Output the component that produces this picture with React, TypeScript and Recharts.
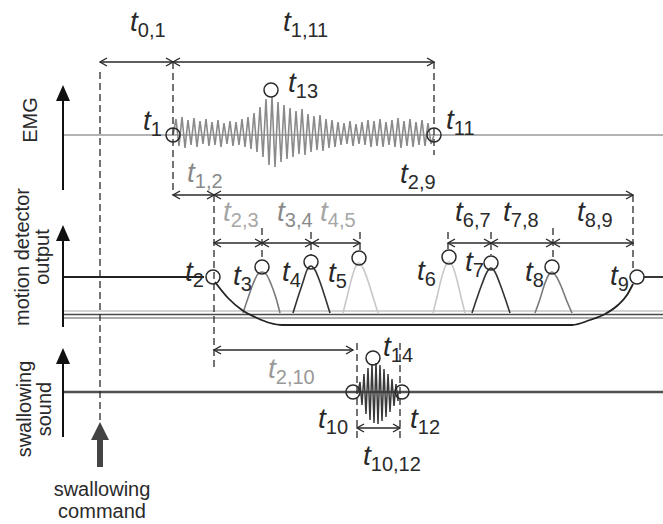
import React from "react";
import { ComposedChart, XAxis, YAxis, Line, ReferenceLine, ReferenceDot } from "recharts";

// Schematic timing diagram of a swallow.
// Time axis: 0 = swallowing command (arbitrary units).
// Level axis runs top-down, one band per channel.

const X_DOMAIN: [number, number] = [-100, 563];
const Y_DOMAIN: [number, number] = [0, 524];
const LEFT_EDGE = -37;
const RIGHT_EDGE = 563;

// EMG channel
const EMG_BASE = 135;
const EMG_ONSET = 73;
const EMG_OFFSET = 334;
const EMG_HALF_STEP = 3;
const EMG_UP = [16, 18, 15, 17, 14, 16, 13, 15, 12, 14, 13, 16, 18, 22, 28, 36, 38, 33, 30, 27, 24, 26, 21, 19, 20, 16, 15, 13, 12, 14, 11, 13, 15, 14, 16, 13, 15, 17, 14, 16, 13, 15, 12];
const EMG_DOWN = [11, 13, 10, 12, 9, 11, 10, 12, 9, 11, 10, 12, 14, 17, 22, 30, 32, 27, 24, 22, 19, 20, 17, 15, 16, 13, 12, 10, 9, 11, 9, 10, 12, 11, 12, 10, 12, 13, 11, 12, 10, 11, 9];

// swallowing sound channel
const SOUND_BASE = 392;
const SOUND_ONSET = 258;
const SOUND_OFFSET = 298;
const SOUND_HALF_STEP = 2;
const SOUND_UP = [10, 18, 24, 28, 29, 27, 23, 18, 13, 8];
const SOUND_DOWN = [13, 22, 28, 31, 32, 29, 25, 20, 14, 9];

// motion detector channel
const MOTION_HIGH = 277;
const MOTION_BASELINES = [311, 314.5, 318];
const MOTION_LEFT = [[LEFT_EDGE, MOTION_HIGH], [104, MOTION_HIGH]];
const MOTION_RIGHT = [[544, MOTION_HIGH], [RIGHT_EDGE, MOTION_HIGH]];
const MOTION_DIP = [[115, 282], [128, 298], [142, 310], [157, 318], [170, 323], [182, 325], [472, 325], [490, 320], [505, 314], [518, 305], [527, 295], [533, 284]];
const PULSE_3 = [[143, 313], [148, 298], [153, 284], [158, 274], [162, 272], [166, 274], [171, 284], [176, 298], [180, 313]];
const PULSE_4 = [[193, 313], [198, 297], [203, 282], [207, 270], [211, 266], [215, 270], [220, 282], [225, 297], [230, 313]];
const PULSE_5 = [[243, 313], [247, 297], [251, 281], [255, 268], [259, 263], [263, 268], [268, 281], [273, 297], [278, 313]];
const PULSE_6 = [[333, 313], [337, 297], [341, 280], [345, 267], [349, 262], [353, 267], [357, 280], [361, 297], [365, 313]];
const PULSE_7 = [[372, 313], [377, 298], [382, 284], [387, 272], [391, 268], [395, 272], [400, 284], [405, 298], [410, 313]];
const PULSE_8 = [[435, 313], [440, 299], [444, 286], [448, 276], [452, 272], [456, 276], [461, 286], [466, 299], [472, 313]];

// circled events: [time, level]
const MARKERS = [
  [73, 135], [334, 135], [171, 90],
  [113, 277], [162, 267], [211, 262], [259, 258], [349, 257], [391, 263], [452, 267], [537, 277],
  [253, 392], [302, 392], [273, 358],
];

// interval arrows: [from, to, level]
const SPANS = [
  [0, 73, 62], [73, 334, 62],
  [73, 114, 195], [114, 533, 195],
  [114, 162, 243], [162, 212, 243], [212, 260, 243],
  [348, 391, 243], [391, 453, 243], [453, 533, 243],
  [114, 253, 350], [257, 300, 428],
];

// dashed guides: [time, from level, to level]
const GUIDES = [
  [0, 72, 420], [73, 62, 195], [334, 62, 155], [114, 195, 368], [533, 195, 270],
  [162, 228, 260], [211, 232, 255], [260, 232, 251], [348, 232, 249], [391, 232, 255], [453, 228, 260],
  [257, 343, 438], [300, 343, 438],
];

// channel axes: [time, bottom, tip]
const AXIS_ARROWS = [[LEFT_EDGE, 190, 85], [LEFT_EDGE, 327, 225], [LEFT_EDGE, 437, 348]];
const COMMAND_ARROW = [0, 467, 422];

// time labels: [subscript, time, level]
const TIME_LABELS: [string, number, number][] = [
  ["0,1", 30, 31], ["1,11", 183, 31], ["13", 188, 92], ["1", 43, 130], ["11", 346, 129],
  ["1,2", 87, 182], ["2,9", 300, 183],
  ["2,3", 123, 221], ["3,4", 177, 221], ["4,5", 220, 221],
  ["6,7", 355, 221], ["7,8", 403, 221], ["8,9", 477, 221],
  ["2", 85, 281], ["3", 133, 285], ["4", 182, 281], ["5", 228, 282],
  ["6", 317, 280], ["7", 365, 271], ["8", 425, 281], ["9", 510, 285],
  ["2,10", 168, 378], ["14", 283, 356], ["10", 218, 428], ["12", 310, 428], ["10,12", 263, 465],
];

// channel titles: [lines, time, level]
const CHANNEL_TITLES: [string[], number, number][] = [
  [["EMG"], -70, 120],
  [["motion detector", "output"], -78, 257],
  [["swallowing", "sound"], -76, 409],
];
const COMMAND_TITLE = ["swallowing", "command"];

const INK = "#2a2a2a";
const FONT = "'Liberation Sans', Arial, Helvetica, sans-serif";
const LABEL_TONE: Record<string, string> = {
  "1,2": "#8a8a8a",
  "2,3": "#a6a6a6",
  "3,4": "#8a8a8a",
  "4,5": "#a6a6a6",
  "2,10": "#999999",
};

type Pt = { t: number; v: number };
const toPts = (rows: number[][]): Pt[] => rows.map(([t, v]) => ({ t, v }));

function oscillation(onset: number, offset: number, half: number, base: number, up: number[], down: number[]): Pt[] {
  const pts: Pt[] = [{ t: onset, v: base }];
  up.forEach((u, i) => {
    pts.push({ t: onset + half * (2 * i + 1), v: base - u });
    pts.push({ t: onset + half * (2 * i + 2), v: base + down[i] });
  });
  pts.push({ t: offset, v: base });
  return pts;
}

const emgSignal = oscillation(EMG_ONSET, EMG_OFFSET, EMG_HALF_STEP, EMG_BASE, EMG_UP, EMG_DOWN);
const soundSignal = oscillation(SOUND_ONSET, SOUND_OFFSET, SOUND_HALF_STEP, SOUND_BASE, SOUND_UP, SOUND_DOWN);
const flat = (level: number) => toPts([[LEFT_EDGE, level], [RIGHT_EDGE, level]]);

function SpanArrow(p: any) {
  const { x1, y1, x2, y2 } = p;
  const h = 7;
  const w = 4;
  return (
    <g stroke={INK} strokeWidth={1.4} fill="none">
      <line x1={x1} y1={y1} x2={x2} y2={y2} />
      <polyline points={`${x1 + h},${y1 - w} ${x1},${y1} ${x1 + h},${y1 + w}`} />
      <polyline points={`${x2 - h},${y2 - w} ${x2},${y2} ${x2 - h},${y2 + w}`} />
    </g>
  );
}

function UpArrow(p: any, width: number, head: number, half: number, color: string) {
  const { x1, y1, x2, y2 } = p;
  return (
    <g>
      <line x1={x1} y1={y1} x2={x2} y2={y2 + head - 1} stroke={color} strokeWidth={width} />
      <polygon points={`${x2},${y2} ${x2 - half},${y2 + head} ${x2 + half},${y2 + head}`} fill={color} />
    </g>
  );
}

function TLabel({ cx, cy, sub }: { cx: number; cy: number; sub: string }) {
  const color = LABEL_TONE[sub] || INK;
  return (
    <text x={cx} y={cy} fill={color} fontFamily={FONT}>
      <tspan fontSize={28} fontStyle="italic">t</tspan>
      <tspan fontSize={20} dy={6} dx={0}>{sub}</tspan>
    </text>
  );
}

function RotatedTitle({ cx, cy, lines }: { cx: number; cy: number; lines: string[] }) {
  return (
    <g>
      {lines.map((s, i) => {
        const x = cx + i * 20;
        return (
          <text key={s} x={x} y={cy} fontFamily={FONT} fontSize={20} fill={INK}
            textAnchor="middle" dominantBaseline="central" transform={`rotate(-90 ${x} ${cy})`}>
            {s}
          </text>
        );
      })}
    </g>
  );
}

const lineProps = { dataKey: "v", dot: false, activeDot: false, isAnimationActive: false, legendType: "none" as const };

export default function App() {
  return (
    <div style={{ position: "absolute", left: 0, top: 0, width: 663, height: 524, background: "#fff" }}>
      <ComposedChart width={663} height={524} margin={{ top: 0, right: 0, bottom: 0, left: 0 }}>
        <XAxis type="number" dataKey="t" domain={X_DOMAIN} hide allowDataOverflow />
        <YAxis type="number" domain={Y_DOMAIN} reversed hide allowDataOverflow />

        {/* EMG */}
        <Line {...lineProps} data={flat(EMG_BASE)} stroke="#9a9a9a" strokeWidth={1.5} />
        <Line {...lineProps} data={emgSignal} stroke="#8a8a8a" strokeWidth={1.6} />

        {/* motion detector */}
        {MOTION_BASELINES.map((lvl, i) => (
          <Line key={`mb${i}`} {...lineProps} data={flat(lvl)} stroke={["#c4c4c4", "#4a4a4a", "#909090"][i]} strokeWidth={1.5} />
        ))}
        <Line {...lineProps} data={toPts(PULSE_5)} type="monotone" stroke="#c8c8c8" strokeWidth={1.6} />
        <Line {...lineProps} data={toPts(PULSE_6)} type="monotone" stroke="#c8c8c8" strokeWidth={1.6} />
        <Line {...lineProps} data={toPts(PULSE_3)} type="monotone" stroke="#7a7a7a" strokeWidth={1.6} />
        <Line {...lineProps} data={toPts(PULSE_8)} type="monotone" stroke="#7a7a7a" strokeWidth={1.6} />
        <Line {...lineProps} data={toPts(PULSE_4)} type="monotone" stroke="#333" strokeWidth={1.6} />
        <Line {...lineProps} data={toPts(PULSE_7)} type="monotone" stroke="#333" strokeWidth={1.6} />
        <Line {...lineProps} data={toPts(MOTION_LEFT)} stroke="#222" strokeWidth={1.8} />
        <Line {...lineProps} data={toPts(MOTION_RIGHT)} stroke="#222" strokeWidth={1.8} />
        <Line {...lineProps} data={toPts(MOTION_DIP)} type="monotone" stroke="#222" strokeWidth={1.8} />

        {/* swallowing sound */}
        <Line {...lineProps} data={flat(SOUND_BASE)} stroke="#505050" strokeWidth={2.4} />
        <Line {...lineProps} data={soundSignal} stroke="#3a3a3a" strokeWidth={1.5} />

        {GUIDES.map(([t, a, b], i) => (
          <ReferenceLine key={`g${i}`} segment={[{ x: t, y: a }, { x: t, y: b }]} stroke={INK} strokeWidth={1.3} strokeDasharray="7 4" ifOverflow="visible" />
        ))}
        {SPANS.map(([a, b, lvl], i) => (
          <ReferenceLine key={`s${i}`} segment={[{ x: a, y: lvl }, { x: b, y: lvl }]} ifOverflow="visible" shape={(p: any) => SpanArrow(p)} />
        ))}
        {AXIS_ARROWS.map(([t, bottom, tip], i) => (
          <ReferenceLine key={`a${i}`} segment={[{ x: t, y: bottom }, { x: t, y: tip }]} ifOverflow="visible"
            shape={(p: any) => UpArrow(p, 2, 16, 7, "#111")} />
        ))}
        <ReferenceLine segment={[{ x: COMMAND_ARROW[0], y: COMMAND_ARROW[1] }, { x: COMMAND_ARROW[0], y: COMMAND_ARROW[2] }]} ifOverflow="visible"
          shape={(p: any) => UpArrow(p, 6, 18, 9, "#444")} />

        {MARKERS.map(([t, lvl], i) => (
          <ReferenceDot key={`m${i}`} x={t} y={lvl} r={7} fill="none" stroke={INK} strokeWidth={1.5} ifOverflow="visible" />
        ))}
        {TIME_LABELS.map(([sub, t, lvl]) => (
          <ReferenceDot key={`l${sub}`} x={t} y={lvl} r={0} ifOverflow="visible"
            shape={(p: any) => <TLabel cx={p.cx} cy={p.cy} sub={sub} />} />
        ))}
        {CHANNEL_TITLES.map(([lines, t, lvl]) => (
          <ReferenceDot key={lines[0]} x={t} y={lvl} r={0} ifOverflow="visible"
            shape={(p: any) => <RotatedTitle cx={p.cx} cy={p.cy} lines={lines} />} />
        ))}
        {COMMAND_TITLE.map((s, i) => (
          <ReferenceDot key={`c${i}`} x={2} y={496 + i * 22} r={0} ifOverflow="visible"
            shape={(p: any) => (
              <text x={p.cx} y={p.cy} textAnchor="middle" fontFamily={FONT} fontSize={20} fill={INK}>{s}</text>
            )} />
        ))}
      </ComposedChart>
    </div>
  );
}
